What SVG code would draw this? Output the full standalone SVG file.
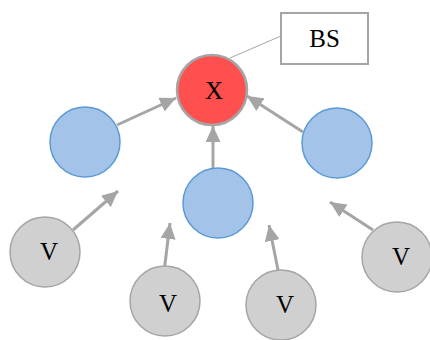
<svg xmlns="http://www.w3.org/2000/svg" width="430" height="340" viewBox="0 0 430 340">
<defs>
<style>
.blue{fill:#a3c3e8;stroke:#5b9bd5;stroke-width:1.5}
.v{fill:#d0d0d0;stroke:#a5a5a5;stroke-width:1.5}
.x{fill:#ff5050;stroke:#a5a5a5;stroke-width:2.5}
.t{font-family:"Liberation Serif","Times New Roman",serif;font-size:25px;fill:#000;text-anchor:middle}
.c{stroke:#a5a5a5;stroke-width:3;fill:none;marker-end:url(#ah)}
</style>
<marker id="ah" markerUnits="userSpaceOnUse" markerWidth="17" markerHeight="15" refX="16" refY="7.5" orient="auto">
<path d="M0,0 L16,7.5 L0,15 Z" fill="#a5a5a5"/>
</marker>
</defs>
<rect width="430" height="340" fill="#fff"/>
<g id="connectors">
<line x1="281" y1="36" x2="230" y2="58" stroke="#a5a5a5" stroke-width="1"/>
<line class="c" x1="117" y1="125" x2="176" y2="98"/>
<line class="c" x1="213" y1="168" x2="213" y2="126"/>
<line class="c" x1="303" y1="132" x2="247" y2="96"/>
<line class="c" x1="73" y1="230" x2="118" y2="191"/>
<line class="c" x1="164" y1="272" x2="170" y2="223"/>
<line class="c" x1="278" y1="270" x2="269" y2="225"/>
<line class="c" x1="373" y1="230" x2="330" y2="202"/>
</g>
<g id="bs"><rect x="281" y="13" width="87" height="51" fill="#fff" stroke="#a5a5a5" stroke-width="2"/><text class="t" x="324.5" y="47">BS</text></g>
<g id="x"><circle class="x" cx="212" cy="90" r="35"/><text class="t" x="214" y="99">X</text></g>
<g id="b1"><circle class="blue" cx="85" cy="142" r="35"/></g>
<g id="b2"><circle class="blue" cx="218" cy="203" r="35"/></g>
<g id="b3"><circle class="blue" cx="337" cy="143" r="35"/></g>
<g id="v1"><circle class="v" cx="45" cy="252" r="35"/><text class="t" x="49" y="260">V</text></g>
<g id="v2"><circle class="v" cx="165" cy="301" r="35"/><text class="t" x="168" y="312">V</text></g>
<g id="v3"><circle class="v" cx="281" cy="305" r="35"/><text class="t" x="285" y="313">V</text></g>
<g id="v4"><circle class="v" cx="397" cy="257" r="35"/><text class="t" x="401" y="265">V</text></g>
</svg>
